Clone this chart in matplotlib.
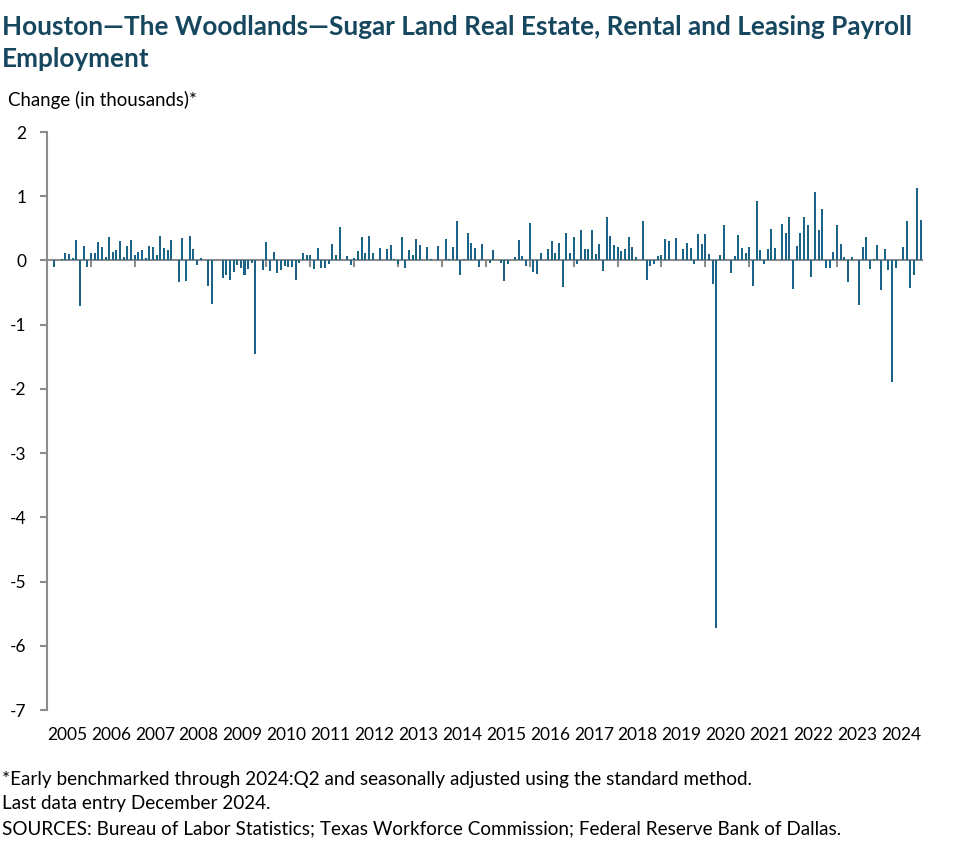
import matplotlib.pyplot as plt
import numpy as np

plt.rcParams['font.family'] = ['Lato', 'DejaVu Sans']

# Data: monthly change, Jan 2005 - Dec 2024 (thousands)
years = list(range(2005, 2025))
changes = [
    # 2005
    0.00, 0.00, -0.10, 0.00, 0.03, 0.11, 0.10, 0.04, 0.32, -0.71, 0.22, -0.10,
    # 2006
    0.11, 0.11, 0.28, 0.21, 0.06, 0.36, 0.13, 0.17, 0.30, 0.06, 0.22, 0.32,
    # 2007
    0.08, 0.13, 0.17, 0.04, 0.23, 0.21, 0.08, 0.38, 0.19, 0.17, 0.32, 0.00,
    # 2008
    -0.34, 0.35, -0.32, 0.38, 0.18, -0.07, 0.04, 0.00, -0.39, -0.68, 0.00, 0.00,
    # 2009
    -0.27, -0.23, -0.30, -0.18, -0.07, -0.12, -0.22, -0.14, -0.04, -1.45, 0.00, -0.15,
    # 2010
    0.28, -0.17, 0.13, -0.20, -0.15, -0.09, -0.10, -0.10, -0.30, -0.04, 0.11, 0.09,
    # 2011
    0.08, -0.14, 0.20, -0.12, -0.12, -0.06, 0.26, 0.08, 0.52, 0.00, 0.07, -0.07,
    # 2012
    0.04, 0.15, 0.36, 0.11, 0.38, 0.11, 0.00, 0.20, 0.00, 0.18, 0.24, 0.03,
    # 2013
    -0.05, 0.36, -0.12, 0.17, 0.08, 0.33, 0.24, 0.00, 0.21, 0.03, 0.00, 0.22,
    # 2014
    0.00, 0.33, 0.03, 0.21, 0.61, -0.23, 0.03, 0.42, 0.27, 0.19, -0.10, 0.25,
    # 2015
    0.00, -0.04, 0.17, 0.00, -0.04, -0.32, -0.05, 0.00, 0.05, 0.32, 0.07, -0.09,
    # 2016
    0.58, -0.18, -0.21, 0.11, 0.00, 0.18, 0.30, 0.11, 0.27, -0.41, 0.43, 0.11,
    # 2017
    0.36, -0.05, 0.48, 0.18, 0.18, 0.48, 0.10, 0.25, -0.16, 0.67, 0.38, 0.24,
    # 2018
    0.21, 0.15, 0.18, 0.36, 0.21, 0.05, 0.00, 0.61, -0.30, -0.09, -0.05, 0.07,
    # 2019
    0.08, 0.33, 0.30, 0.00, 0.35, 0.00, 0.18, 0.27, 0.19, -0.05, 0.41, 0.25,
    # 2020
    0.41, 0.10, -0.36, -5.72, 0.08, 0.55, 0.00, -0.19, 0.07, 0.39, 0.19, 0.11,
    # 2021
    0.21, -0.39, 0.92, 0.16, -0.05, 0.18, 0.49, 0.19, 0.00, 0.57, 0.43, 0.67,
    # 2022
    -0.45, 0.22, 0.43, 0.67, 0.55, -0.25, 1.06, 0.47, 0.80, -0.11, -0.11, 0.13,
    # 2023
    0.55, 0.25, 0.05, -0.33, 0.05, 0.00, -0.69, 0.21, 0.36, -0.13, 0.02, 0.24,
    # 2024
    -0.46, 0.18, -0.15, -1.90, -0.11, 0.00, 0.21, 0.61, -0.43, -0.23, 1.13, 0.63,
]
yticks = [2, 1, 0, -1, -2, -3, -4, -5, -6, -7]

title_color = '#16475f'
bar_color = '#1b6487'
axis_grey = '#8c8c8c'

fig = plt.figure(figsize=(9.77, 8.64), dpi=100)
ax = fig.add_axes([0.0481, 0.1782, 0.8966, 0.669])

x = np.arange(len(changes))
ax.bar(x, changes, width=0.55, color=bar_color, zorder=2)

ax.set_xlim(0, len(changes) - 0.5)
ax.set_ylim(-7, 2)
ax.set_yticks(yticks)
ax.set_yticklabels([str(v) for v in yticks], fontsize=12.5)
ax.tick_params(axis='y', length=5, width=1.5, color=axis_grey, pad=10)

for s in ['top', 'right', 'bottom']:
    ax.spines[s].set_visible(False)
ax.spines['left'].set_color(axis_grey)
ax.spines['left'].set_linewidth(1.5)

# zero line with year ticks
ax.axhline(0, color=axis_grey, lw=1.5, zorder=1)
jan_idx = np.arange(12, len(changes), 12)
ax.vlines(jan_idx, -0.1, 0, color=axis_grey, lw=1.5, zorder=1)
ax.set_xticks([])

for k, yr in enumerate(years):
    ax.text(12 * k + 5.5, -0.03, str(yr), transform=ax.get_xaxis_transform(),
            ha='center', va='top', fontsize=12.5)

fig.text(0.002, 0.9595, "Houston\u2014The Woodlands\u2014Sugar Land Real Estate, Rental and Leasing Payroll",
         ha='left', va='baseline', fontsize=18.8, fontweight='bold', color=title_color)
fig.text(0.002, 0.9225, "Employment",
         ha='left', va='baseline', fontsize=18.8, fontweight='bold', color=title_color)
fig.text(0.008, 0.877, "Change (in thousands)*", ha='left', va='baseline', fontsize=13.4)

fig.text(0.002, 0.0914, "*Early benchmarked through 2024:Q2 and seasonally adjusted using the standard method.",
         ha='left', va='baseline', fontsize=13.6)
fig.text(0.002, 0.0637, "Last data entry December 2024.", ha='left', va='baseline', fontsize=13.6)
fig.text(0.002, 0.0347, "SOURCES: Bureau of Labor Statistics; Texas Workforce Commission; Federal Reserve Bank of Dallas.",
         ha='left', va='baseline', fontsize=13.6)

fig.savefig('out.png', dpi=100)
